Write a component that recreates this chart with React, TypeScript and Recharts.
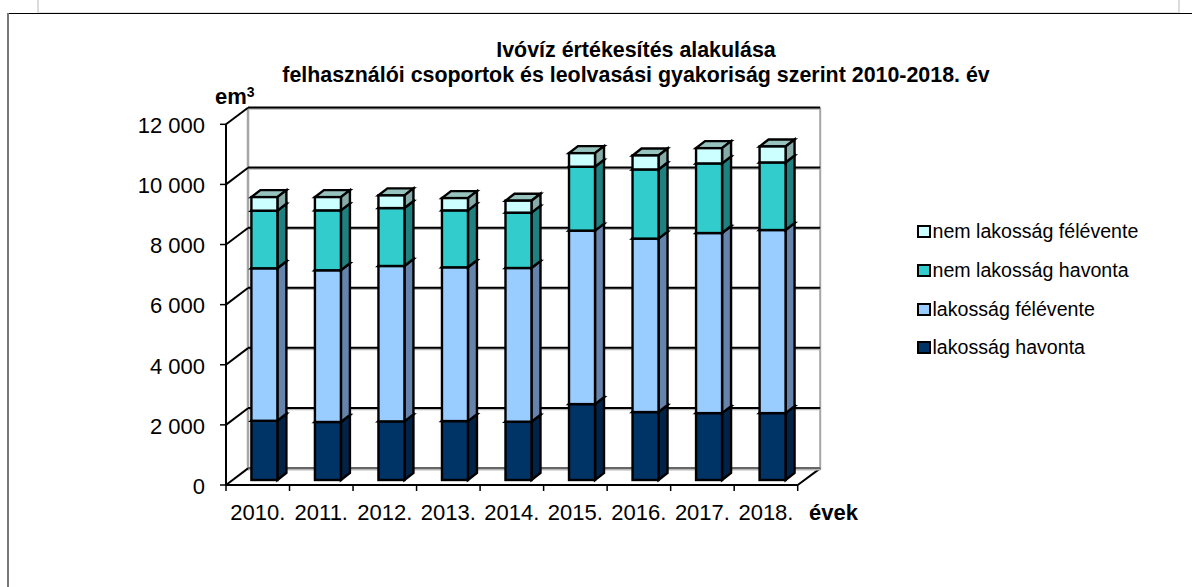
import React from "react";
import { ComposedChart, Bar, XAxis, YAxis, CartesianGrid, Legend } from "recharts";

const years = ["2010.", "2011.", "2012.", "2013.", "2014.", "2015.", "2016.", "2017.", "2018."];
const lakossagHavonta = [1970, 1930, 1950, 1960, 1940, 2525, 2260, 2225, 2225];
const lakossagFelevente = [5073, 5047, 5170, 5116, 5113, 5771, 5770, 5991, 6091];
const nemHavonta = [1917, 1993, 1927, 1894, 1841, 2126, 2302, 2316, 2249];
const nemFelevente = [452, 442, 421, 409, 398, 452, 465, 508, 531];
const yTicks = [0, 2000, 4000, 6000, 8000, 10000, 12000];

const rows = years.map((year, i) => ({
  year,
  lh: lakossagHavonta[i],
  lf: lakossagFelevente[i],
  nh: nemHavonta[i],
  nf: nemFelevente[i],
}));

const W = 1192;
const H = 587;
const PLOT_LEFT = 226;
const PLOT_RIGHT = 797.7;
const PLOT_TOP = 124.3;
const PLOT_BOTTOM = 485;
const WALL_DX = 22;
const WALL_DY = -16.6;
const BAR_DX = 6.4;
const BAR_DY = -5;
const DEPTH_X = 9;
const DEPTH_Y = -7;
const FONT = "'Liberation Sans', Arial, sans-serif";

const makeBar = (side: string, top: string) => (props: any) => {
  const { x, y, width, height, fill } = props;
  const l = x + BAR_DX;
  const t = y + BAR_DY;
  const r = l + width;
  const b = t + height;
  return (
    <g stroke="#000" strokeWidth={2.4} strokeLinejoin="miter">
      <polygon points={`${l},${t} ${r},${t} ${r + DEPTH_X},${t + DEPTH_Y} ${l + DEPTH_X},${t + DEPTH_Y}`} fill={top} />
      <polygon points={`${r},${t} ${r + DEPTH_X},${t + DEPTH_Y} ${r + DEPTH_X},${b + DEPTH_Y} ${r},${b}`} fill={side} />
      <rect x={l} y={t} width={width} height={height} fill={fill} />
    </g>
  );
};

const gridLine = (props: any) => {
  const { x1, x2, y1, index } = props;
  const y = y1;
  const backL = x1 + WALL_DX;
  const backR = x2 + WALL_DX + 0.5;
  const backY = y + WALL_DY;
  const isFloor = Math.abs(y - PLOT_BOTTOM) < 1;
  return (
    <g key={`grid-${index}`}>
      {isFloor && (
        <>
          <line x1={backL} y1={PLOT_TOP + WALL_DY} x2={backL} y2={backY + 1} stroke="#a6a6a6" strokeWidth={2.5} />
          <line x1={backR} y1={PLOT_TOP + WALL_DY} x2={backR} y2={backY + 1} stroke="#a6a6a6" strokeWidth={2} />
          <line x1={x2} y1={y} x2={backR} y2={backY} stroke="#000" strokeWidth={2} />
        </>
      )}
      <line x1={backL} y1={backY + 1} x2={backR} y2={backY + 1} stroke="#b5b5b5" strokeWidth={2} />
      <line x1={backL} y1={backY - 0.3} x2={backR} y2={backY - 0.3} stroke={isFloor ? "#666" : "#000"} strokeWidth={2} />
      <line x1={x1} y1={y} x2={backL} y2={backY} stroke="#000" strokeWidth={2} />
    </g>
  );
};

const XTick = (props: any) => {
  const { x, y, payload, index } = props;
  const band = (PLOT_RIGHT - PLOT_LEFT) / years.length;
  return (
    <g>
      <line x1={x - band / 2} y1={PLOT_BOTTOM} x2={x - band / 2} y2={PLOT_BOTTOM + 6} stroke="#000" strokeWidth={1.5} />
      {index === years.length - 1 && (
        <line x1={x + band / 2} y1={PLOT_BOTTOM} x2={x + band / 2} y2={PLOT_BOTTOM + 6} stroke="#000" strokeWidth={1.5} />
      )}
      <text x={x} y={y + 27} textAnchor="middle" fontSize={22} fontFamily={FONT} fill="#000">
        {payload.value}
      </text>
    </g>
  );
};

const LegendBox = (props: any) => {
  const items = [...(props.payload || [])].reverse();
  return (
    <div style={{ fontFamily: FONT, fontSize: 19.6, color: "#000" }}>
      {items.map((it: any) => (
        <div key={it.value} style={{ height: 38.7, display: "flex", alignItems: "center", whiteSpace: "nowrap" }}>
          <span
            style={{
              display: "inline-block",
              boxSizing: "border-box",
              width: 14,
              height: 13,
              marginRight: 1.5,
              border: "2.5px solid #000",
              background: it.color,
            }}
          />
          {it.value}
        </div>
      ))}
    </div>
  );
};

const abs = (style: React.CSSProperties): React.CSSProperties => ({ position: "absolute", ...style });

export default function App() {
  return (
    <div style={abs({ left: 0, top: 0, width: W, height: H, overflow: "hidden", background: "#fff" })}>
      <div style={abs({ left: 37, top: 0, width: 2, height: 12, background: "#dcdcdc" })} />
      <div style={abs({ left: 1178, top: 0, width: 2, height: 12, background: "#dcdcdc" })} />
      <div style={abs({ left: 37, top: 12, width: 1143, height: 1, background: "#e2e2e2" })} />
      <div style={abs({ left: 7, top: 13, width: 1185, height: 1, background: "#000" })} />
      <div style={abs({ left: 7, top: 13, width: 2, height: 574, background: "#777" })} />
      <ComposedChart
        width={W}
        height={H}
        data={rows}
        margin={{ top: PLOT_TOP, right: W - PLOT_RIGHT, bottom: 0, left: PLOT_LEFT - 80 }}
        barCategoryGap={0}
        style={{ position: "absolute", left: 0, top: 0 }}
      >
        <CartesianGrid horizontal={gridLine as any} vertical={false} />
        <XAxis
          dataKey="year"
          height={H - PLOT_BOTTOM}
          axisLine={{ stroke: "#000", strokeWidth: 2 }}
          tickLine={false}
          tick={<XTick />}
          interval={0}
        />
        <YAxis
          width={80}
          domain={[0, 12000]}
          ticks={yTicks}
          interval={0}
          axisLine={{ stroke: "#000", strokeWidth: 2 }}
          tickLine={{ stroke: "#000", strokeWidth: 1.5 }}
          tickSize={6}
          tickMargin={15}
          tick={{ fontSize: 22, fontFamily: FONT, fill: "#000", dy: 1 }}
          tickFormatter={(v: number) => String(v).replace(/(\d)(?=\d{3}$)/, "$1 ")}
        />
        <Legend
          layout="vertical"
          align="center"
          verticalAlign="middle"
          itemSorter={null as any}
          content={<LegendBox />}
          wrapperStyle={{ left: 917, top: 212.5, width: 270, height: 160, margin: 0 }}
        />
        <Bar dataKey="lh" name="lakosság havonta" stackId="a" fill="#003366" barSize={26} isAnimationActive={false} shape={makeBar("#002347", "#335c85")} />
        <Bar dataKey="lf" name="lakosság félévente" stackId="a" fill="#99CCFF" barSize={26} isAnimationActive={false} shape={makeBar("#6583AB", "#b8dbff")} />
        <Bar dataKey="nh" name="nem lakosság havonta" stackId="a" fill="#33CCCC" barSize={26} isAnimationActive={false} shape={makeBar("#1F8080", "#66d9d9")} />
        <Bar dataKey="nf" name="nem lakosság félévente" stackId="a" fill="#CCFFFF" barSize={26} isAnimationActive={false} shape={makeBar("#87ABA8", "#97C3BE")} />
      </ComposedChart>
      <svg width={W} height={H} style={abs({ left: 0, top: 0, pointerEvents: "none" })}>
        <g fontFamily={FONT} fontWeight="bold" fill="#000">
          <text x={636} y={57} textAnchor="middle" fontSize={21.4}>Ivóvíz értékesítés alakulása</text>
          <text x={636} y={82} textAnchor="middle" fontSize={21.4}>felhasználói csoportok és leolvasási gyakoriság szerint 2010-2018. év</text>
          <text x={215} y={104} fontSize={22}>em<tspan fontSize={14} dy={-7}>3</tspan></text>
          <text x={809} y={520} fontSize={22}>évek</text>
        </g>
      </svg>
    </div>
  );
}
